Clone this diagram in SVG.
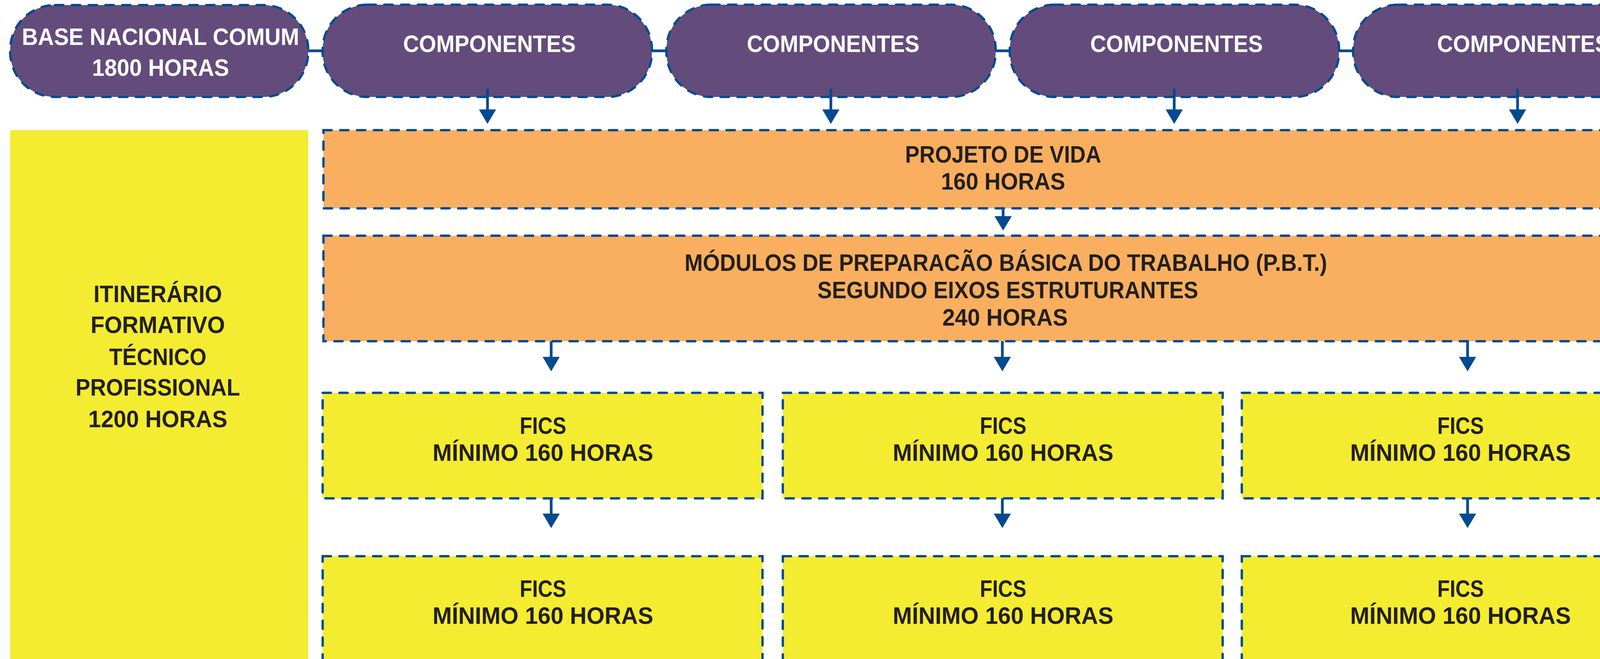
<svg xmlns="http://www.w3.org/2000/svg" width="4261" height="1686" viewBox="0 0 4261 1686">
<style>
.pill{fill:#634C7B;stroke:#034A90;stroke-width:6;stroke-dasharray:21 22;stroke-linecap:round}
.orange{fill:#F9AF5F;stroke:#034A90;stroke-width:6;stroke-dasharray:21 22;stroke-linecap:round}
.yel{fill:#F3EC30;stroke:#034A90;stroke-width:6;stroke-dasharray:21 22;stroke-linecap:round}
.solid{fill:#F3EC30}
text{font-family:"Liberation Sans",Arial,sans-serif;font-weight:bold;font-size:61px;text-anchor:middle}
.w{fill:#FFFFFF}
.d{fill:#231F20}
.link{stroke:#034A90;stroke-width:7;fill:none}
.arr{stroke:#034A90;stroke-width:7;fill:none;marker-end:url(#ah)}
</style>
<defs>
<marker id="ah" markerUnits="userSpaceOnUse" markerWidth="37" markerHeight="44" viewBox="0 0 37 44" refX="0" refY="22" orient="auto">
<path d="M0,0 L37,22 L0,44 Z" fill="#034A90"/>
</marker>
</defs>
<rect width="4261" height="1686" fill="#FFFFFF"/>

<g id="base">
<rect class="pill" x="26" y="13" width="763" height="235" rx="115" ry="115"/>
<text class="w" x="411" y="115" textLength="710" lengthAdjust="spacingAndGlyphs">BASE NACIONAL COMUM</text>
<text class="w" x="411" y="194" textLength="351" lengthAdjust="spacingAndGlyphs">1800 HORAS</text>
</g>
<g id="comp1">
<rect class="pill" x="826" y="12" width="843" height="236" rx="115" ry="115"/>
<text class="w" x="1253" y="133" textLength="442" lengthAdjust="spacingAndGlyphs">COMPONENTES</text>
</g>
<g id="comp2">
<rect class="pill" x="1706" y="12" width="843" height="236" rx="115" ry="115"/>
<text class="w" x="2133" y="133" textLength="442" lengthAdjust="spacingAndGlyphs">COMPONENTES</text>
</g>
<g id="comp3">
<rect class="pill" x="2585" y="12" width="843" height="236" rx="115" ry="115"/>
<text class="w" x="3012" y="133" textLength="442" lengthAdjust="spacingAndGlyphs">COMPONENTES</text>
</g>
<g id="comp4">
<rect class="pill" x="3464" y="12" width="843" height="236" rx="115" ry="115"/>
<text class="w" x="3900" y="133" textLength="442" lengthAdjust="spacingAndGlyphs">COMPONENTES</text>
</g>

<g id="itinerario">
<rect class="solid" x="26" y="333" width="763" height="1360"/>
<text class="d" x="404" y="773" textLength="329" lengthAdjust="spacingAndGlyphs">ITINERÁRIO</text>
<text class="d" x="404" y="852" textLength="344" lengthAdjust="spacingAndGlyphs">FORMATIVO</text>
<text class="d" x="404" y="934" textLength="249" lengthAdjust="spacingAndGlyphs">TÉCNICO</text>
<text class="d" x="404" y="1012" textLength="421" lengthAdjust="spacingAndGlyphs">PROFISSIONAL</text>
<text class="d" x="404" y="1093" textLength="356" lengthAdjust="spacingAndGlyphs">1200 HORAS</text>
</g>

<g id="projeto">
<rect class="orange" x="828" y="333" width="3480" height="200"/>
<text class="d" x="2568" y="416" textLength="502" lengthAdjust="spacingAndGlyphs">PROJETO DE VIDA</text>
<text class="d" x="2568" y="485" textLength="318" lengthAdjust="spacingAndGlyphs">160 HORAS</text>
</g>

<g id="pbt">
<rect class="orange" x="828" y="603" width="3480" height="270"/>
<text class="d" x="2575" y="693" textLength="1645" lengthAdjust="spacingAndGlyphs">MÓDULOS DE PREPARACÃO BÁSICA DO TRABALHO (P.B.T.)</text>
<text class="d" x="2580" y="763" textLength="975" lengthAdjust="spacingAndGlyphs">SEGUNDO EIXOS ESTRUTURANTES</text>
<text class="d" x="2573" y="833" textLength="321" lengthAdjust="spacingAndGlyphs">240 HORAS</text>
</g>

<g id="fics1a">
<rect class="yel" x="826" y="1005" width="1126" height="270"/>
<text class="d" x="1390" y="1110" textLength="119" lengthAdjust="spacingAndGlyphs">FICS</text>
<text class="d" x="1390" y="1179" textLength="565" lengthAdjust="spacingAndGlyphs">MÍNIMO 160 HORAS</text>
</g>
<g id="fics1b">
<rect class="yel" x="2004" y="1005" width="1126" height="270"/>
<text class="d" x="2568" y="1110" textLength="119" lengthAdjust="spacingAndGlyphs">FICS</text>
<text class="d" x="2568" y="1179" textLength="565" lengthAdjust="spacingAndGlyphs">MÍNIMO 160 HORAS</text>
</g>
<g id="fics1c">
<rect class="yel" x="3179" y="1005" width="1126" height="270"/>
<text class="d" x="3739" y="1110" textLength="119" lengthAdjust="spacingAndGlyphs">FICS</text>
<text class="d" x="3739" y="1179" textLength="565" lengthAdjust="spacingAndGlyphs">MÍNIMO 160 HORAS</text>
</g>
<g id="fics2a">
<rect class="yel" x="826" y="1423" width="1126" height="300"/>
<text class="d" x="1390" y="1527" textLength="119" lengthAdjust="spacingAndGlyphs">FICS</text>
<text class="d" x="1390" y="1596" textLength="565" lengthAdjust="spacingAndGlyphs">MÍNIMO 160 HORAS</text>
</g>
<g id="fics2b">
<rect class="yel" x="2004" y="1423" width="1126" height="300"/>
<text class="d" x="2568" y="1527" textLength="119" lengthAdjust="spacingAndGlyphs">FICS</text>
<text class="d" x="2568" y="1596" textLength="565" lengthAdjust="spacingAndGlyphs">MÍNIMO 160 HORAS</text>
</g>
<g id="fics2c">
<rect class="yel" x="3179" y="1423" width="1126" height="300"/>
<text class="d" x="3739" y="1527" textLength="119" lengthAdjust="spacingAndGlyphs">FICS</text>
<text class="d" x="3739" y="1596" textLength="565" lengthAdjust="spacingAndGlyphs">MÍNIMO 160 HORAS</text>
</g>

<g id="connectors">
<line class="link" x1="789" y1="130" x2="826" y2="130"/>
<line class="link" x1="1669" y1="130" x2="1706" y2="130"/>
<line class="link" x1="2549" y1="130" x2="2585" y2="130"/>
<line class="link" x1="3428" y1="130" x2="3464" y2="130"/>
<line class="arr" x1="1248" y1="227" x2="1248" y2="280"/>
<line class="arr" x1="2127" y1="227" x2="2127" y2="280"/>
<line class="arr" x1="3006" y1="227" x2="3006" y2="280"/>
<line class="arr" x1="3885" y1="227" x2="3885" y2="280"/>
<line class="arr" x1="2568" y1="533" x2="2568" y2="553"/>
<line class="arr" x1="1411" y1="873" x2="1411" y2="913"/>
<line class="arr" x1="2566" y1="873" x2="2566" y2="913"/>
<line class="arr" x1="3757" y1="873" x2="3757" y2="913"/>
<line class="arr" x1="1411" y1="1275" x2="1411" y2="1314"/>
<line class="arr" x1="2566" y1="1275" x2="2566" y2="1314"/>
<line class="arr" x1="3757" y1="1275" x2="3757" y2="1314"/>
</g>
</svg>
